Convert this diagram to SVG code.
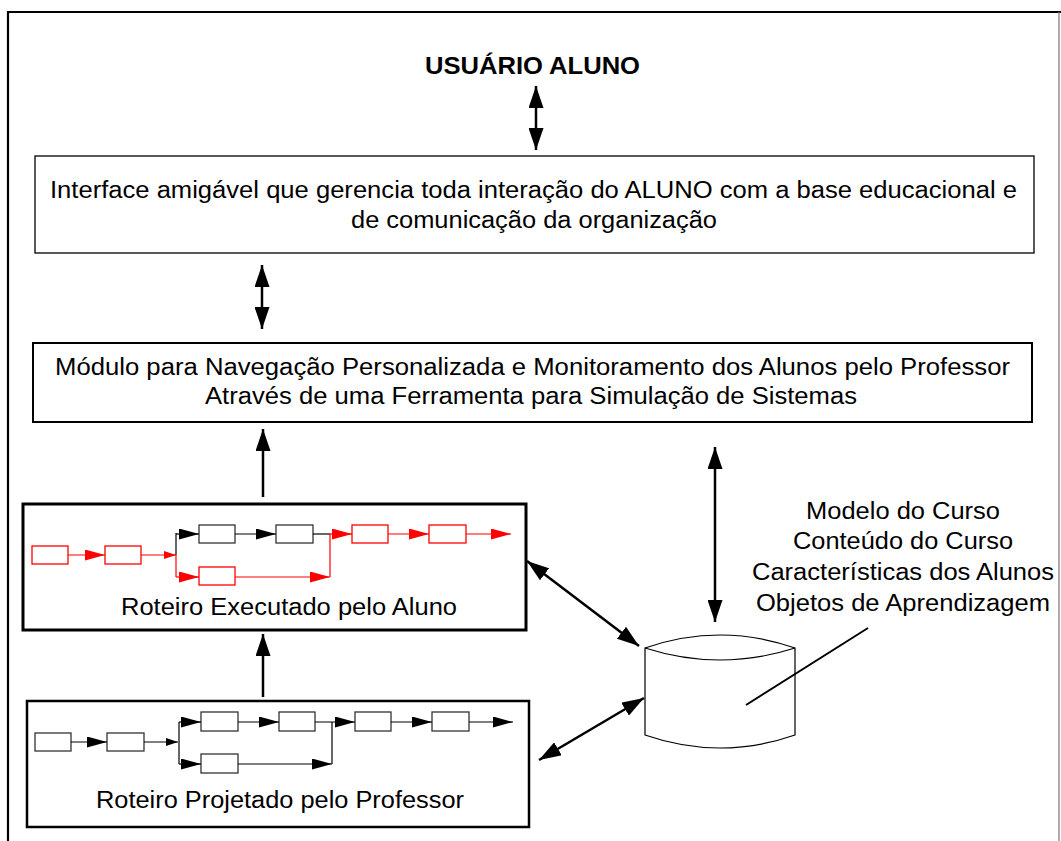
<svg xmlns="http://www.w3.org/2000/svg" width="1061" height="841" viewBox="0 0 1061 841">
<style>
text{font-family:"Liberation Sans",Arial,sans-serif;font-size:23px;fill:#000}
.b{font-weight:bold}
.box{fill:#fff;stroke:#000}
.fb{fill:#fff;stroke:#333;stroke-width:1.3}
.fr{fill:#fff;stroke:#f00;stroke-width:1.3}
.ln{fill:none;stroke:#000;stroke-width:2.5}
.lb{fill:none;stroke:#000;stroke-width:1.2}
.lr{fill:none;stroke:#f00;stroke-width:1.2}
</style>
<defs>
<marker id="big" markerUnits="userSpaceOnUse" markerWidth="22" markerHeight="15" refX="22" refY="7.5" orient="auto-start-reverse"><path d="M0,0L22,7.5L0,15z" fill="#000"/></marker>
<marker id="hb" markerUnits="userSpaceOnUse" markerWidth="20" markerHeight="11" refX="20" refY="5.5" orient="auto"><path d="M0,0L20,5.5L0,11z" fill="#000"/></marker>
<marker id="hr" markerUnits="userSpaceOnUse" markerWidth="20" markerHeight="11" refX="20" refY="5.5" orient="auto"><path d="M0,0L20,5.5L0,11z" fill="#f00"/></marker>
<marker id="sb" markerUnits="userSpaceOnUse" markerWidth="12" markerHeight="8" refX="12" refY="4" orient="auto"><path d="M0,0L12,4L0,8z" fill="#000"/></marker>
<marker id="sr" markerUnits="userSpaceOnUse" markerWidth="12" markerHeight="8" refX="12" refY="4" orient="auto"><path d="M0,0L12,4L0,8z" fill="#f00"/></marker>
</defs>
<rect width="1061" height="841" fill="#fff"/>
<g id="frame">
<path d="M8,841V12H1061" fill="none" stroke="#000" stroke-width="2.2"/>
<path d="M1059,12V841" fill="none" stroke="#777" stroke-width="1.2"/>
</g>
<g id="usuario">
<text class="b" x="425" y="74" font-size="22" textLength="215" lengthAdjust="spacingAndGlyphs">USUÁRIO ALUNO</text>
</g>
<g id="interface">
<rect class="box" x="35" y="156" width="999" height="97" stroke-width="1.3"/>
<text x="50" y="198" textLength="967" lengthAdjust="spacingAndGlyphs">Interface amigável que gerencia toda interação do ALUNO com a base educacional e</text>
<text x="351" y="228" textLength="366" lengthAdjust="spacingAndGlyphs">de comunicação da organização</text>
</g>
<g id="modulo">
<rect class="box" x="33" y="343" width="999" height="79" stroke-width="2"/>
<text x="55" y="375" textLength="955" lengthAdjust="spacingAndGlyphs">Módulo para Navegação Personalizada e Monitoramento dos Alunos pelo Professor</text>
<text x="205" y="404" textLength="652" lengthAdjust="spacingAndGlyphs">Através de uma Ferramenta para Simulação de Sistemas</text>
</g>
<g id="executado">
<rect class="box" x="23" y="504" width="503" height="126" stroke-width="3"/>
<rect class="fr" x="32" y="546" width="36" height="18"/>
<rect class="fr" x="105" y="546" width="36" height="18"/>
<rect class="fb" x="199" y="525" width="36" height="18"/>
<rect class="fb" x="276" y="525" width="37" height="18"/>
<rect class="fr" x="352" y="525" width="36" height="18"/>
<rect class="fr" x="429" y="525" width="37" height="18"/>
<rect class="fr" x="199" y="567" width="36" height="18"/>
<path class="lr" d="M68,555H105" stroke-width="2.2" marker-end="url(#hr)"/>
<path class="lr" d="M141,555H176" marker-end="url(#sr)"/>
<path class="lb" d="M176,533V555" stroke-width="2"/>
<path class="lr" d="M176,555V577" stroke-width="1.6"/>
<path class="lb" d="M176,534H199" marker-end="url(#hb)"/>
<path class="lb" d="M235,534H276" marker-end="url(#hb)"/>
<path class="lb" d="M313,534H330" stroke-width="1.6"/>
<path class="lr" d="M330,534H352" marker-end="url(#hr)"/>
<path class="lr" d="M330,534V577" stroke-width="1.6"/>
<path class="lr" d="M388,534H429" stroke-width="1.6" marker-end="url(#hr)"/>
<path class="lr" d="M466,534H511" marker-end="url(#hr)"/>
<path class="lr" d="M176,577H199" marker-end="url(#hr)"/>
<path class="lr" d="M235,577H330" stroke-width="1.8" marker-end="url(#hr)"/>
<text x="121" y="615" textLength="336" lengthAdjust="spacingAndGlyphs">Roteiro Executado pelo Aluno</text>
</g>
<g id="projetado">
<rect class="box" x="27" y="701" width="502" height="126" stroke-width="2.5"/>
<rect class="fb" x="35" y="733" width="36" height="18"/>
<rect class="fb" x="107" y="733" width="37" height="18"/>
<rect class="fb" x="201" y="712" width="37" height="19"/>
<rect class="fb" x="279" y="712" width="36" height="19"/>
<rect class="fb" x="355" y="712" width="36" height="19"/>
<rect class="fb" x="432" y="712" width="37" height="19"/>
<rect class="fb" x="201" y="754" width="37" height="19"/>
<path class="lb" d="M71,742H107" stroke-width="2" marker-end="url(#hb)"/>
<path class="lb" d="M144,742H178" marker-end="url(#sb)"/>
<path class="lb" d="M179,722V764" stroke="#444"/>
<path class="lb" d="M179,722H201" marker-end="url(#hb)"/>
<path class="lb" d="M238,722H279" marker-end="url(#hb)"/>
<path class="lb" d="M315,722H355" marker-end="url(#hb)"/>
<path class="lb" d="M332,722V764"/>
<path class="lb" d="M391,722H432" stroke-width="2" marker-end="url(#hb)"/>
<path class="lb" d="M469,722H513" marker-end="url(#hb)"/>
<path class="lb" d="M179,764H201" marker-end="url(#hb)"/>
<path class="lb" d="M238,764H332" stroke-width="2" marker-end="url(#hb)"/>
<text x="96" y="808" textLength="368" lengthAdjust="spacingAndGlyphs">Roteiro Projetado pelo Professor</text>
</g>
<g id="database">
<path d="M645,648Q720,622 795,648V735Q720,761 645,735Z" fill="#fff" stroke="#000" stroke-width="1.2"/>
<path d="M645,648Q720,672 795,648" fill="none" stroke="#000" stroke-width="1.2"/>
</g>
<g id="dblabel">
<text x="806" y="519" textLength="194" lengthAdjust="spacingAndGlyphs">Modelo do Curso</text>
<text x="793" y="549" textLength="220" lengthAdjust="spacingAndGlyphs">Conteúdo do Curso</text>
<text x="752" y="580" textLength="302" lengthAdjust="spacingAndGlyphs">Características dos Alunos</text>
<text x="756" y="611" textLength="294" lengthAdjust="spacingAndGlyphs">Objetos de Aprendizagem</text>
</g>
<g id="connectors">
<path class="ln" d="M536,86V150" marker-start="url(#big)" marker-end="url(#big)"/>
<path class="ln" d="M262,265V329" marker-start="url(#big)" marker-end="url(#big)"/>
<path class="ln" d="M263,497V429" marker-end="url(#big)"/>
<path class="ln" d="M263,697V634" marker-end="url(#big)"/>
<path class="ln" d="M715,447V622" marker-start="url(#big)" marker-end="url(#big)"/>
<path class="ln" d="M527,561L639,646" marker-start="url(#big)" marker-end="url(#big)"/>
<path class="ln" d="M539,760L644,698" marker-start="url(#big)" marker-end="url(#big)"/>
<path d="M868,628L746,705" fill="none" stroke="#000" stroke-width="2"/>
</g>
</svg>
